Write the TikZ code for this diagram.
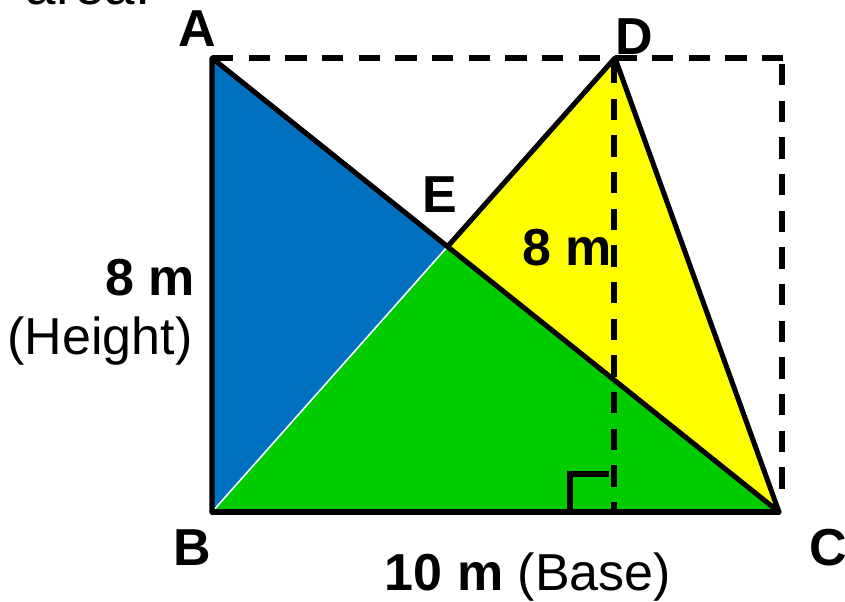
\documentclass[tikz,border=0pt]{standalone}
\usepackage{fontspec}
\setmainfont{Liberation Sans}
\begin{document}
\begin{tikzpicture}[x=0.75pt,y=-0.75pt,
  edge/.style={line width=3.8pt,line join=round,line cap=round},
  dashline/.style={line width=3.8pt,dash pattern=on 16pt off 11.5pt},
  lbl/.style={inner sep=0pt,anchor=base,font=\fontsize{39}{42}\selectfont\bfseries},
  txt/.style={inner sep=0pt,anchor=base,font=\fontsize{39}{42}\selectfont}]
\useasboundingbox (0,0) rectangle (845,602);
\clip (0,0) rectangle (845,602);
\coordinate (A) at (212,58);
\coordinate (D) at (615,58);
\coordinate (B) at (212,512);
\coordinate (C) at (779,512);
\coordinate (E) at (447.7,246.4);
\coordinate (TR) at (784,58);
\coordinate (RT) at (782,64);
\coordinate (BR) at (782,494);
\coordinate (F) at (614,512);
% fills
\fill[fill={rgb,255:red,0;green,112;blue,192}] (A) -- (B) -- (E) -- cycle;
\fill[fill={rgb,255:red,0;green,204;blue,0}] (B) -- (E) -- (C) -- cycle;
\fill[fill={rgb,255:red,255;green,255;blue,0}] (D) -- (E) -- (C) -- cycle;
\draw[white,line width=1.2pt] (B) -- (E);
% dashed lines
\draw[dashline] (A) -- (TR);
\draw[dashline] (RT) -- (BR);
\draw[dashline] (614,62) -- (F);
% right angle
\draw[line width=3.8pt] (570,512) -- (570,474) -- (609,474);
% edges
\draw[edge] (B) -- (A) -- (C) -- (D) -- (E);
\draw[edge] (B) -- (C);
% labels
\node[txt] (area) at (88,5) {\fontsize{41}{44}\selectfont area.};
\node[lbl] (la) at (197,47) {A};
\node[lbl] (ld) at (634,55) {D};
\node[lbl] (lb) at (192,565) {B};
\node[lbl] (lc) at (828,565) {C};
\node[lbl] (le) at (440,213) {E};
\node[lbl] (h2) at (567,265) {8 m};
\node[lbl] (h1) at (150,295) {8 m};
\node[txt] (ht) at (100,354) {(Height)};
\node[txt] (base) at (528,590) {\textbf{10 m} (Base)};
\end{tikzpicture}
\end{document}
